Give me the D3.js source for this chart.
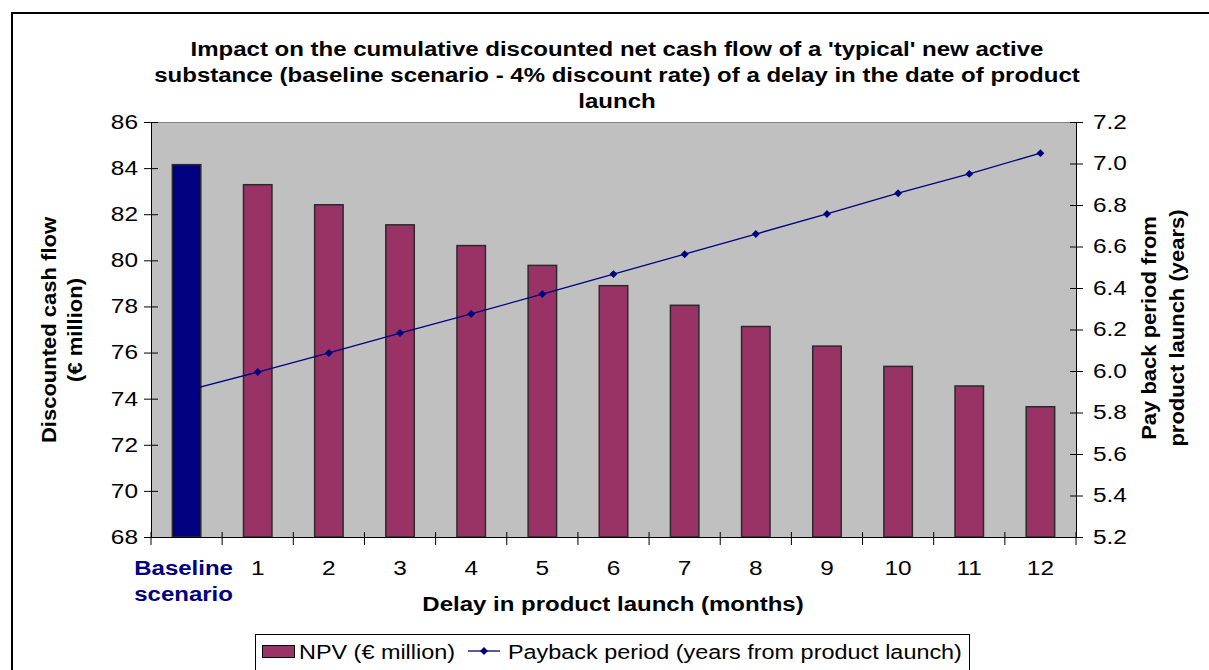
<!DOCTYPE html>
<html>
<head>
<meta charset="utf-8">
<script src="https://cdn.jsdelivr.net/npm/d3@7"></script>
<style>
  body { margin: 0; background: #fff; }
  text { font-family: "Liberation Sans", Arial, sans-serif; }
</style>
</head>
<body>
<svg id="chart"></svg>
<script>
// chart values
const categories = ["Baseline scenario", "1", "2", "3", "4", "5", "6", "7", "8", "9", "10", "11", "12"];
const npv = [84.15, 83.28, 82.41, 81.54, 80.64, 79.78, 78.9, 78.05, 77.13, 76.28, 75.4, 74.55, 73.65];
const payback = [5.905, 5.995, 6.087, 6.183, 6.275, 6.371, 6.467, 6.563, 6.66, 6.757, 6.857, 6.95, 7.05];
const leftTicks = [68, 70, 72, 74, 76, 78, 80, 82, 84, 86];
const rightTicks = [5.2, 5.4, 5.6, 5.8, 6.0, 6.2, 6.4, 6.6, 6.8, 7.0, 7.2];
const titleLines = [
  "Impact on the cumulative discounted net cash flow of a 'typical' new active",
  "substance (baseline scenario - 4% discount rate) of a delay in the date of product",
  "launch"
];

const width = 1209, height = 670;
const plot = { left: 151, right: 1076, top: 122, bottom: 537 };
const FS = 20;

const svg = d3.select("#chart").attr("width", width).attr("height", height);

// the original text is drawn wider than Arial, so widen glyphs a bit
function stretch(sel, k) {
  sel.each(function() {
    const len = this.getComputedTextLength();
    if (len > 0) d3.select(this).attr("textLength", len * k).attr("lengthAdjust", "spacingAndGlyphs");
  });
}

// outer frame (only top and left edges are visible)
svg.append("path")
  .attr("d", `M12,${height + 5}V13H${width + 5}`)
  .attr("fill", "none").attr("stroke", "#000").attr("stroke-width", 2);

const xb = d3.scaleBand().domain(categories).range([plot.left, plot.right]);
const yL = d3.scaleLinear().domain([68, 86]).range([plot.bottom, plot.top]);
const yR = d3.scaleLinear().domain([5.2, 7.2]).range([plot.bottom, plot.top]);

// plot background
svg.append("rect")
  .attr("x", plot.left).attr("y", plot.top)
  .attr("width", plot.right - plot.left).attr("height", plot.bottom - plot.top)
  .attr("fill", "#c0c0c0");
svg.append("line")
  .attr("x1", plot.left).attr("x2", plot.right).attr("y1", plot.top + 0.5).attr("y2", plot.top + 0.5)
  .attr("stroke", "#808080");

// bars
const bw = xb.bandwidth() / 2.5;
svg.append("g").selectAll("rect")
  .data(categories)
  .join("rect")
  .attr("x", d => xb(d) + (xb.bandwidth() - bw) / 2)
  .attr("width", bw)
  .attr("y", (d, i) => yL(npv[i]))
  .attr("height", (d, i) => plot.bottom - yL(npv[i]))
  .attr("fill", (d, i) => i === 0 ? "#000080" : "#993366")
  .attr("stroke", "#2a2a2a").attr("stroke-width", 1.5);

// payback line
const cx = d => xb(d) + xb.bandwidth() / 2;
svg.append("path")
  .datum(categories)
  .attr("fill", "none").attr("stroke", "#000080").attr("stroke-width", 1.3)
  .attr("d", d3.line().x(d => cx(d)).y((d, i) => yR(payback[i])));
svg.append("g").selectAll("path")
  .data(categories)
  .join("path")
  .attr("transform", (d, i) => `translate(${cx(d)},${yR(payback[i])})`)
  .attr("d", d3.symbol(d3.symbolDiamond2, 40))
  .attr("fill", "#000080");

// axes
const leftAxis = d3.axisLeft(yL).tickValues(leftTicks).tickSizeInner(7).tickSizeOuter(0).tickPadding(6);
const gL = svg.append("g").attr("transform", `translate(${plot.left},0)`).call(leftAxis);
gL.selectAll(".tick line").attr("x2", -7).attr("x1", 7);

const rightAxis = d3.axisRight(yR).tickValues(rightTicks).tickFormat(d3.format(".1f")).tickSizeInner(7).tickSizeOuter(0).tickPadding(10);
const gR = svg.append("g").attr("transform", `translate(${plot.right},0)`).call(rightAxis);
gR.selectAll(".tick line").attr("x1", -6).attr("x2", 7);

const xAxis = d3.axisBottom(xb).tickValues([]).tickSizeOuter(0);
svg.append("g").attr("transform", `translate(0,${plot.bottom})`).call(xAxis);
svg.append("g").selectAll("line")
  .data(categories.concat(["end"]))
  .join("line")
  .attr("x1", (d, i) => i < categories.length ? xb(d) : plot.right)
  .attr("x2", (d, i) => i < categories.length ? xb(d) : plot.right)
  .attr("y1", plot.bottom - 5).attr("y2", plot.bottom + 8)
  .attr("stroke", "#000");

[gL, gR].forEach(g => {
  g.selectAll(".tick text").attr("font-size", FS).attr("fill", "#000")
    .attr("font-family", "'Liberation Sans', Arial, sans-serif");
  g.selectAll("line, path").attr("stroke", "#000");
  stretch(g.selectAll(".tick text"), 1.22);
});

// category labels
const xl = svg.append("g").selectAll("text")
  .data(categories)
  .join("text")
  .attr("x", d => cx(d))
  .attr("y", 575)
  .attr("text-anchor", "middle")
  .attr("font-size", FS);
xl.each(function(d, i) {
  const t = d3.select(this);
  if (i === 0) {
    t.attr("font-weight", "bold").attr("fill", "#000080");
    d.split(" ").forEach((w, j) => t.append("tspan").attr("x", cx(d) - 3).attr("dy", j ? 26 : 0).text(w));
  } else {
    t.attr("fill", "#000").text(d);
  }
});
stretch(xl.filter((d, i) => i > 0), 1.22);
stretch(xl.selectAll("tspan"), 1.2);

// titles
const title = svg.append("text").attr("text-anchor", "middle").attr("font-size", FS).attr("font-weight", "bold");
titleLines.forEach((l, i) => title.append("tspan").attr("x", 617).attr("y", 56 + i * 26).text(l));
stretch(title.selectAll("tspan"), 1.2);

const xt = svg.append("text").attr("x", 613).attr("y", 611).attr("text-anchor", "middle")
  .attr("font-size", FS).attr("font-weight", "bold").text("Delay in product launch (months)");
stretch(xt, 1.2);

const yt = svg.append("text").attr("transform", "translate(56,330) rotate(-90)")
  .attr("text-anchor", "middle").attr("font-size", FS).attr("font-weight", "bold");
["Discounted cash flow", "(€ million)"].forEach((l, i) => yt.append("tspan").attr("x", 0).attr("y", i * 26).text(l));
stretch(yt.selectAll("tspan"), 1.1);

const yt2 = svg.append("text").attr("transform", "translate(1156,328) rotate(-90)")
  .attr("text-anchor", "middle").attr("font-size", FS).attr("font-weight", "bold");
["Pay back period from", "product launch (years)"].forEach((l, i) => yt2.append("tspan").attr("x", 0).attr("y", i * 28).text(l));
stretch(yt2.selectAll("tspan"), 1.1);

// legend
const lg = svg.append("g");
lg.append("rect").attr("x", 255.5).attr("y", 634.5).attr("width", 714).attr("height", 40)
  .attr("fill", "#fff").attr("stroke", "#000");
lg.append("rect").attr("x", 262.5).attr("y", 645.5).attr("width", 32).attr("height", 12)
  .attr("fill", "#993366").attr("stroke", "#000");
const l1 = lg.append("text").attr("x", 299).attr("y", 659).attr("font-size", FS).text("NPV (€ million)");
lg.append("line").attr("x1", 468).attr("x2", 500).attr("y1", 651).attr("y2", 651)
  .attr("stroke", "#000080").attr("stroke-width", 1.3);
lg.append("path").attr("transform", "translate(484,651)").attr("d", d3.symbol(d3.symbolDiamond2, 40)).attr("fill", "#000080");
const l2 = lg.append("text").attr("x", 508).attr("y", 659).attr("font-size", FS).text("Payback period (years from product launch)");
stretch(l1, 1.17);
stretch(l2, 1.17);
</script>
</body>
</html>
